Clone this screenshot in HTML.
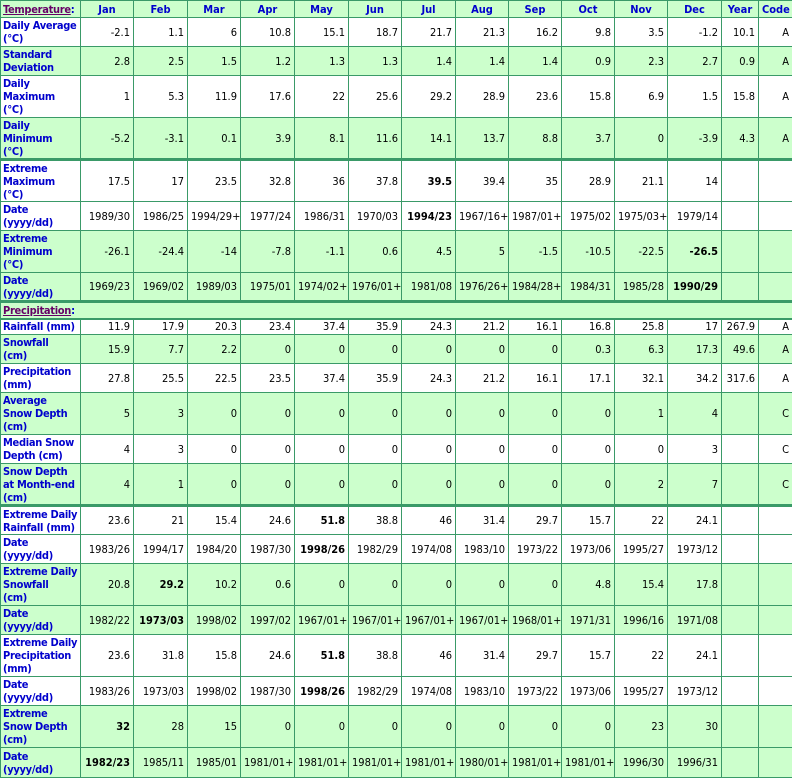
<!DOCTYPE html>
<html><head><meta charset="utf-8"><style>
html,body{margin:0;padding:0;background:#fff;}
table{border-collapse:collapse;table-layout:fixed;width:792px;font-family:"DejaVu Sans Condensed","DejaVu Sans","Liberation Sans",sans-serif;font-size:11px;color:#000;}
td,th{border:1px solid #3a9a68;padding:0 3px;line-height:13px;text-align:right;overflow:hidden;white-space:nowrap;}
th{color:#0000cc;text-align:center;font-weight:bold;}
td.l{text-align:left;color:#0000cc;font-weight:bold;padding:0 1px 0 2px;font-size:11px;letter-spacing:-0.3px;}
td.l div{overflow:hidden;}
.h16 div{max-height:15px}.h29 div{max-height:27px}.h42 div{max-height:40px}
tr.g td,tr.g th{background:#ccffcc;}
tr.t td{border-top:3px solid #3a9a68;}
tr.t2 td{border-top:2px solid #3a9a68;}
b{font-weight:bold;}
.u{color:#660066;text-decoration:underline;}
</style></head><body>
<table>
<colgroup><col style="width:80px"><col style="width:53px"><col style="width:54px"><col style="width:53px"><col style="width:54px"><col style="width:54px"><col style="width:53px"><col style="width:54px"><col style="width:53px"><col style="width:53px"><col style="width:53px"><col style="width:53px"><col style="width:54px"><col style="width:37px"><col style="width:34px"></colgroup>
<tr class="g h16" style="height:17px"><td class="l"><div><span class="u">Temperature</span>:</div></td><th>Jan</th><th>Feb</th><th>Mar</th><th>Apr</th><th>May</th><th>Jun</th><th>Jul</th><th>Aug</th><th>Sep</th><th>Oct</th><th>Nov</th><th>Dec</th><th>Year</th><th>Code</th></tr>
<tr class="h29" style="height:29px"><td class="l"><div>Daily Average<br>(°C)</div></td><td>-2.1</td><td>1.1</td><td>6</td><td>10.8</td><td>15.1</td><td>18.7</td><td>21.7</td><td>21.3</td><td>16.2</td><td>9.8</td><td>3.5</td><td>-1.2</td><td>10.1</td><td>A</td></tr>
<tr class="g h29" style="height:29px"><td class="l"><div>Standard<br>Deviation</div></td><td>2.8</td><td>2.5</td><td>1.5</td><td>1.2</td><td>1.3</td><td>1.3</td><td>1.4</td><td>1.4</td><td>1.4</td><td>0.9</td><td>2.3</td><td>2.7</td><td>0.9</td><td>A</td></tr>
<tr class="h42" style="height:42px"><td class="l"><div>Daily<br>Maximum<br>(°C)</div></td><td>1</td><td>5.3</td><td>11.9</td><td>17.6</td><td>22</td><td>25.6</td><td>29.2</td><td>28.9</td><td>23.6</td><td>15.8</td><td>6.9</td><td>1.5</td><td>15.8</td><td>A</td></tr>
<tr class="g h42" style="height:42px"><td class="l"><div>Daily<br>Minimum<br>(°C)</div></td><td>-5.2</td><td>-3.1</td><td>0.1</td><td>3.9</td><td>8.1</td><td>11.6</td><td>14.1</td><td>13.7</td><td>8.8</td><td>3.7</td><td>0</td><td>-3.9</td><td>4.3</td><td>A</td></tr>
<tr class="t h42" style="height:42px"><td class="l"><div>Extreme<br>Maximum<br>(°C)</div></td><td>17.5</td><td>17</td><td>23.5</td><td>32.8</td><td>36</td><td>37.8</td><td><b>39.5</b></td><td>39.4</td><td>35</td><td>28.9</td><td>21.1</td><td>14</td><td></td><td></td></tr>
<tr class="h29" style="height:29px"><td class="l"><div>Date<br>(yyyy/dd)</div></td><td>1989/30</td><td>1986/25</td><td>1994/29+</td><td>1977/24</td><td>1986/31</td><td>1970/03</td><td><b>1994/23</b></td><td>1967/16+</td><td>1987/01+</td><td>1975/02</td><td>1975/03+</td><td>1979/14</td><td></td><td></td></tr>
<tr class="g h42" style="height:42px"><td class="l"><div>Extreme<br>Minimum<br>(°C)</div></td><td>-26.1</td><td>-24.4</td><td>-14</td><td>-7.8</td><td>-1.1</td><td>0.6</td><td>4.5</td><td>5</td><td>-1.5</td><td>-10.5</td><td>-22.5</td><td><b>-26.5</b></td><td></td><td></td></tr>
<tr class="g h29" style="height:29px"><td class="l"><div>Date<br>(yyyy/dd)</div></td><td>1969/23</td><td>1969/02</td><td>1989/03</td><td>1975/01</td><td>1974/02+</td><td>1976/01+</td><td>1981/08</td><td>1976/26+</td><td>1984/28+</td><td>1984/31</td><td>1985/28</td><td><b>1990/29</b></td><td></td><td></td></tr>
<tr class="g t h16" style="height:17px"><td class="l" colspan="15"><div><span class="u">Precipitation</span>:</div></td></tr>
<tr class="t2 h16" style="height:16px"><td class="l"><div>Rainfall (mm)</div></td><td>11.9</td><td>17.9</td><td>20.3</td><td>23.4</td><td>37.4</td><td>35.9</td><td>24.3</td><td>21.2</td><td>16.1</td><td>16.8</td><td>25.8</td><td>17</td><td>267.9</td><td>A</td></tr>
<tr class="g h29" style="height:29px"><td class="l"><div>Snowfall<br>(cm)</div></td><td>15.9</td><td>7.7</td><td>2.2</td><td>0</td><td>0</td><td>0</td><td>0</td><td>0</td><td>0</td><td>0.3</td><td>6.3</td><td>17.3</td><td>49.6</td><td>A</td></tr>
<tr class="h29" style="height:29px"><td class="l"><div>Precipitation<br>(mm)</div></td><td>27.8</td><td>25.5</td><td>22.5</td><td>23.5</td><td>37.4</td><td>35.9</td><td>24.3</td><td>21.2</td><td>16.1</td><td>17.1</td><td>32.1</td><td>34.2</td><td>317.6</td><td>A</td></tr>
<tr class="g h42" style="height:42px"><td class="l"><div>Average<br>Snow Depth<br>(cm)</div></td><td>5</td><td>3</td><td>0</td><td>0</td><td>0</td><td>0</td><td>0</td><td>0</td><td>0</td><td>0</td><td>1</td><td>4</td><td></td><td>C</td></tr>
<tr class="h29" style="height:29px"><td class="l"><div>Median Snow<br>Depth (cm)</div></td><td>4</td><td>3</td><td>0</td><td>0</td><td>0</td><td>0</td><td>0</td><td>0</td><td>0</td><td>0</td><td>0</td><td>3</td><td></td><td>C</td></tr>
<tr class="g h42" style="height:42px"><td class="l"><div>Snow Depth<br>at Month-end<br>(cm)</div></td><td>4</td><td>1</td><td>0</td><td>0</td><td>0</td><td>0</td><td>0</td><td>0</td><td>0</td><td>0</td><td>2</td><td>7</td><td></td><td>C</td></tr>
<tr class="t h29" style="height:29px"><td class="l"><div>Extreme Daily<br>Rainfall (mm)</div></td><td>23.6</td><td>21</td><td>15.4</td><td>24.6</td><td><b>51.8</b></td><td>38.8</td><td>46</td><td>31.4</td><td>29.7</td><td>15.7</td><td>22</td><td>24.1</td><td></td><td></td></tr>
<tr class="h29" style="height:29px"><td class="l"><div>Date<br>(yyyy/dd)</div></td><td>1983/26</td><td>1994/17</td><td>1984/20</td><td>1987/30</td><td><b>1998/26</b></td><td>1982/29</td><td>1974/08</td><td>1983/10</td><td>1973/22</td><td>1973/06</td><td>1995/27</td><td>1973/12</td><td></td><td></td></tr>
<tr class="g h42" style="height:42px"><td class="l"><div>Extreme Daily<br>Snowfall<br>(cm)</div></td><td>20.8</td><td><b>29.2</b></td><td>10.2</td><td>0.6</td><td>0</td><td>0</td><td>0</td><td>0</td><td>0</td><td>4.8</td><td>15.4</td><td>17.8</td><td></td><td></td></tr>
<tr class="g h29" style="height:29px"><td class="l"><div>Date<br>(yyyy/dd)</div></td><td>1982/22</td><td><b>1973/03</b></td><td>1998/02</td><td>1997/02</td><td>1967/01+</td><td>1967/01+</td><td>1967/01+</td><td>1967/01+</td><td>1968/01+</td><td>1971/31</td><td>1996/16</td><td>1971/08</td><td></td><td></td></tr>
<tr class="h42" style="height:42px"><td class="l"><div>Extreme Daily<br>Precipitation<br>(mm)</div></td><td>23.6</td><td>31.8</td><td>15.8</td><td>24.6</td><td><b>51.8</b></td><td>38.8</td><td>46</td><td>31.4</td><td>29.7</td><td>15.7</td><td>22</td><td>24.1</td><td></td><td></td></tr>
<tr class="h29" style="height:29px"><td class="l"><div>Date<br>(yyyy/dd)</div></td><td>1983/26</td><td>1973/03</td><td>1998/02</td><td>1987/30</td><td><b>1998/26</b></td><td>1982/29</td><td>1974/08</td><td>1983/10</td><td>1973/22</td><td>1973/06</td><td>1995/27</td><td>1973/12</td><td></td><td></td></tr>
<tr class="g h42" style="height:42px"><td class="l"><div>Extreme<br>Snow Depth<br>(cm)</div></td><td><b>32</b></td><td>28</td><td>15</td><td>0</td><td>0</td><td>0</td><td>0</td><td>0</td><td>0</td><td>0</td><td>23</td><td>30</td><td></td><td></td></tr>
<tr class="g h29" style="height:30px"><td class="l"><div>Date<br>(yyyy/dd)</div></td><td><b>1982/23</b></td><td>1985/11</td><td>1985/01</td><td>1981/01+</td><td>1981/01+</td><td>1981/01+</td><td>1981/01+</td><td>1980/01+</td><td>1981/01+</td><td>1981/01+</td><td>1996/30</td><td>1996/31</td><td></td><td></td></tr>
</table>
</body></html>
